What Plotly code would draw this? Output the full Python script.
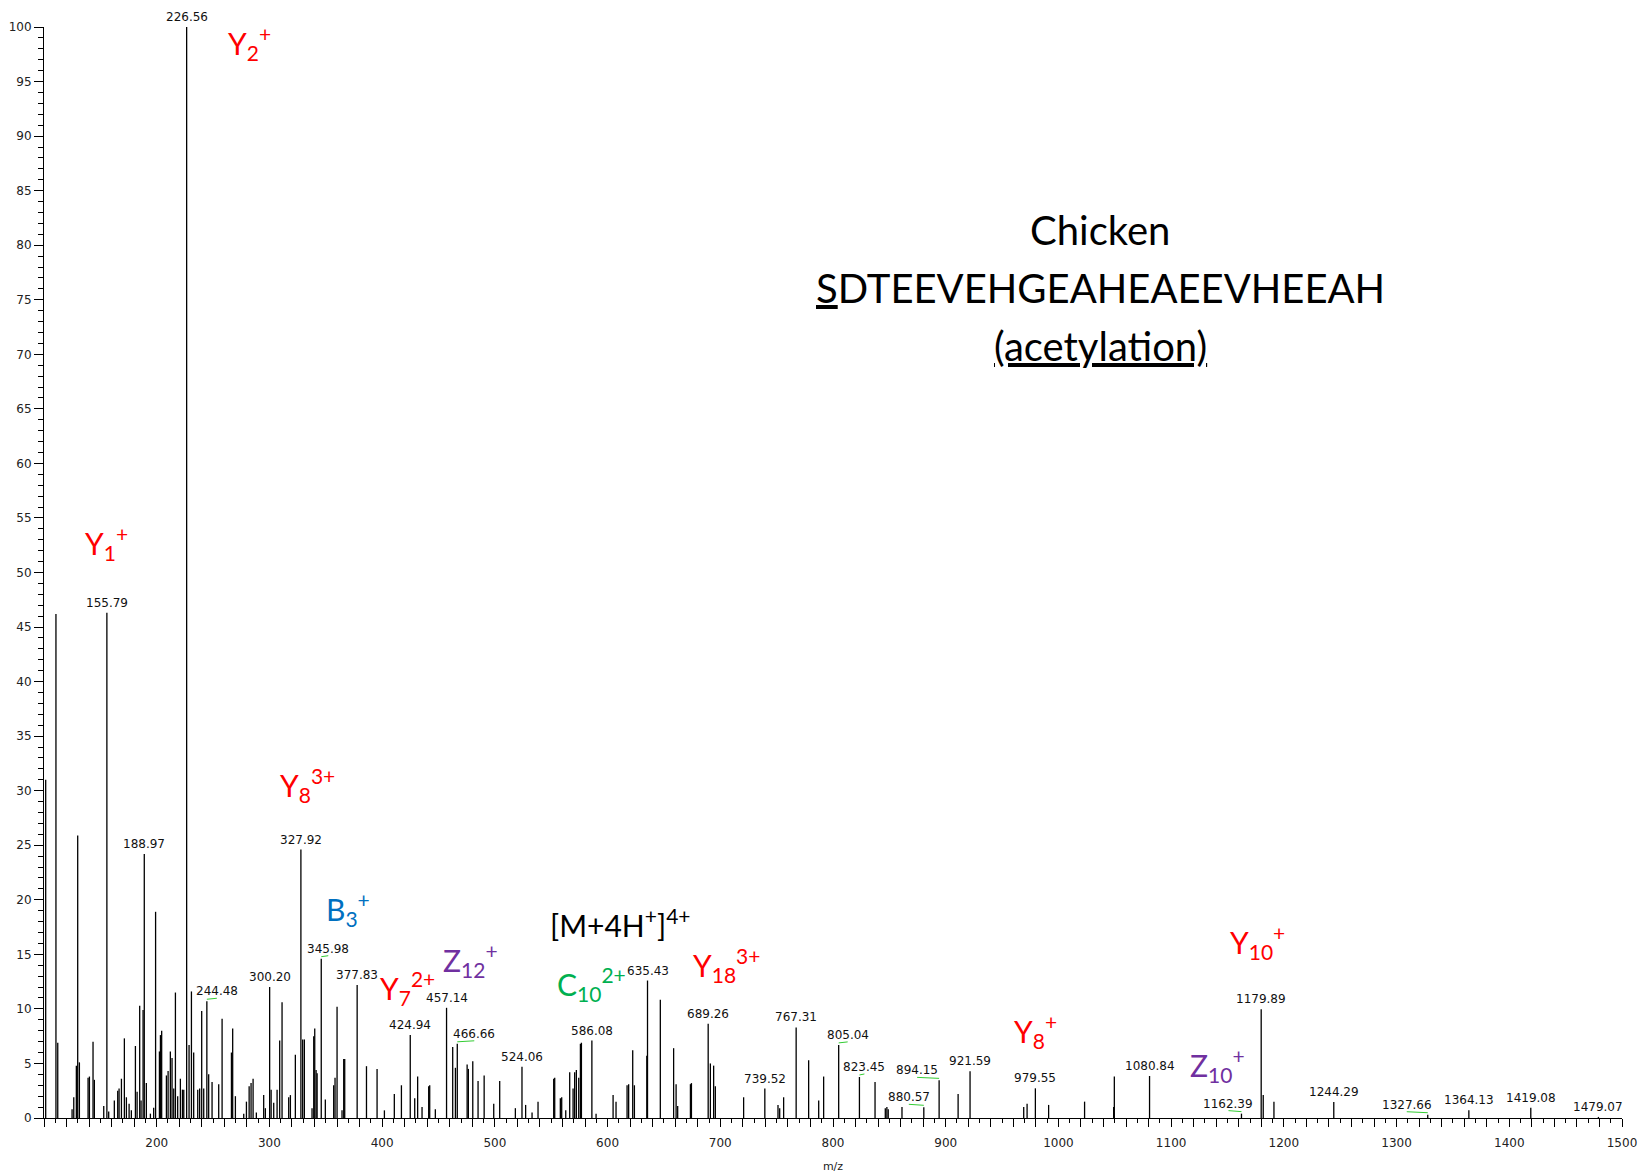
import plotly.graph_objects as go

# ---------------- data ----------------
MZ = [101.5, 110.6, 112.2, 124.9, 126.4, 128.7, 129.9, 131.4, 139.1, 140.3, 143.5, 144.7,
      153.0, 155.79, 157.4, 162.4, 165.4, 166.6, 168.7, 171.3, 173.1, 175.5, 177.5, 181.1,
      182.6, 184.9, 186.1, 187.9, 188.97, 190.8, 194.4, 197.3, 199.0, 202.4, 203.3, 204.4,
      208.6, 210.1, 212.1, 213.6, 215.1, 216.6, 218.6, 221.0, 222.8, 224.0, 226.56, 228.7,
      230.8, 232.8, 236.4, 238.1, 239.9, 241.7, 244.48, 246.1, 249.1, 255.0, 258.0, 266.3,
      267.4, 269.8, 277.2, 279.6, 282.0, 283.7, 285.5, 288.4, 294.9, 296.4, 300.20, 301.5,
      303.8, 306.8, 309.1, 311.2, 317.1, 318.6, 323.0, 327.92, 329.5, 331.0, 337.8, 339.3,
      340.2, 341.4, 342.3, 345.98, 349.6, 357.0, 358.2, 360.0, 364.4, 365.9, 366.8, 377.83,
      386.1, 395.5, 402.0, 410.8, 417.1, 424.94, 428.9, 431.5, 435.4, 441.3, 442.2, 447.2,
      457.14, 462.6, 465.0, 466.66, 475.4, 476.5, 480.4, 485.1, 490.5, 499.0, 504.3, 518.2,
      524.06, 527.3, 533.0, 538.3, 552.2, 553.1, 558.1, 559.3, 562.9, 566.4, 569.4, 570.8,
      572.3, 574.4, 575.9, 576.8, 586.08, 589.8, 604.9, 607.5, 617.3, 618.7, 622.3, 623.8,
      634.8, 635.43, 646.8, 658.6, 660.8, 662.2, 673.5, 674.4, 689.26, 691.2, 694.1, 695.6,
      720.7, 739.52, 751.2, 752.7, 756.2, 767.31, 778.4, 787.3, 791.7, 805.04, 823.45, 837.3,
      846.4, 847.8, 849.0, 861.2, 880.57, 894.15, 911.0, 921.59, 969.2, 972.2, 979.55, 991.3,
      1023.2, 1049.0, 1049.6, 1080.84, 1162.39, 1179.89, 1181.7, 1191.2, 1244.29, 1327.66,
      1364.13, 1419.08, 1479.07]
INTENSITY = [31.0, 46.2, 6.9, 0.8, 1.9, 4.8, 25.9, 5.1, 3.7, 3.8, 7.0, 3.5,
             1.1, 46.3, 0.6, 1.6, 2.5, 2.7, 3.6, 7.3, 1.9, 1.3, 0.7, 6.6,
             2.4, 10.3, 1.6, 9.9, 24.2, 3.2, 0.4, 0.95, 18.9, 6.1, 7.6, 8.0,
             3.9, 4.3, 6.1, 5.5, 2.7, 11.5, 2.0, 3.6, 2.6, 2.6, 100.0, 6.7,
             11.6, 6.0, 2.6, 2.7, 9.8, 2.7, 10.7, 4.0, 3.3, 3.1, 9.1, 6.0,
             8.2, 2.0, 0.4, 1.5, 2.9, 3.2, 3.6, 0.5, 2.1, 0.9, 12.0, 2.6,
             1.4, 2.6, 7.1, 10.6, 1.9, 2.1, 5.8, 24.6, 7.2, 7.2, 0.9, 7.5,
             8.2, 4.4, 4.1, 14.6, 1.7, 3.0, 3.7, 10.2, 0.7, 5.4, 5.4, 12.2,
             4.75, 4.5, 0.7, 2.2, 3.0, 7.6, 1.8, 3.8, 1.0, 2.9, 3.0, 0.8,
             10.1, 6.5, 4.6, 6.8, 4.9, 4.5, 5.2, 3.4, 3.9, 1.3, 3.4, 0.9,
             4.7, 1.2, 0.5, 1.5, 3.6, 3.7, 1.8, 1.9, 0.7, 4.2, 2.7, 4.2,
             4.4, 3.7, 6.8, 6.9, 7.1, 0.4, 2.1, 1.5, 3.0, 3.1, 6.2, 3.0,
             5.7, 12.6, 10.85, 6.4, 3.1, 1.1, 3.1, 3.2, 8.65, 5.0, 4.8, 2.9,
             1.9, 2.7, 1.2, 0.9, 1.9, 8.3, 5.3, 1.6, 3.8, 6.7, 3.76, 3.3,
             0.9, 1.0, 0.8, 1.0, 0.98, 3.45, 2.2, 4.28, 1.0, 1.3, 2.72, 1.2,
             1.5, 1.0, 3.8, 3.85, 0.4, 9.96, 2.1, 1.5, 1.47, 0.3,
             0.7, 0.95, 0.1]

PEAK_LABELS = ["155.79", "188.97", "226.56", "244.48", "300.20", "327.92", "345.98",
               "377.83", "424.94", "457.14", "466.66", "524.06", "586.08", "635.43",
               "689.26", "739.52", "767.31", "805.04", "823.45", "880.57", "894.15",
               "921.59", "979.55", "1080.84", "1162.39", "1179.89", "1244.29",
               "1327.66", "1364.13", "1419.08", "1479.07"]
# labels that were moved sideways in the original, joined to their peak by a green leader
MOVED_LABELS = ["244.48", "345.98", "466.66", "805.04", "823.45", "880.57", "894.15",
                "1162.39", "1327.66"]
MOVED_SHIFT_PX = [10, 7, 17, 9, 5, -15, -22, -13, -21]

ION_TEXT = ["Y<sub>1</sub><sup>+</sup>", "Y<sub>2</sub><sup>+</sup>",
            "Y<sub>8</sub><sup>3+</sup>", "B<sub>3</sub><sup>+</sup>",
            "Y<sub>7</sub><sup>2+</sup>", "Z<sub>12</sub><sup>+</sup>",
            "C<sub>10</sub><sup>2+</sup>", "Y<sub>18</sub><sup>3+</sup>",
            "Y<sub>8</sub><sup>+</sup>", "Z<sub>10</sub><sup>+</sup>",
            "Y<sub>10</sub><sup>+</sup>"]
ION_MZ = [155.3, 282.2, 333.4, 369.6, 422.7, 478.3, 585.7, 705.4, 979.6, 1141.0, 1176.5]
ION_Y = [52.7, 98.5, 30.5, 19.2, 11.9, 14.45, 12.3, 14.0, 8.0, 4.9, 16.1]
ION_COLOR = ["#FF0000", "#FF0000", "#FF0000", "#0070C0", "#FF0000", "#7030A0",
             "#00B050", "#FF0000", "#FF0000", "#7030A0", "#FF0000"]

PRECURSOR_TEXT = "[M+4H<sup>+</sup>]<sup>4+</sup>"
PRECURSOR_POS = (611.5, 17.9)

TITLE_LINES = ["Chicken", "<u>S</u>DTEEVEHGEAHEAEEVHEEAH", "<u>(acetylation)</u>"]
TITLE_MZ = 1037.2
TITLE_Y = [81.35, 76.1, 70.8]

X_TICKS = list(range(100, 1501, 20))
X_TICK_TEXT = [str(v) if (v % 100 == 0 and v != 100) else "" for v in X_TICKS]

# ---------------- figure ----------------
xs, ys = [], []
for m, h in zip(MZ, INTENSITY):
    xs += [m, m, None]
    ys += [0, h, None]

fig = go.Figure()
fig.add_trace(go.Scatter(x=xs, y=ys, mode="lines",
                         line=dict(color="black", width=1.3),
                         hoverinfo="skip", showlegend=False))

lookup = dict(zip(MZ, INTENSITY))
shift_of = dict(zip(MOVED_LABELS, MOVED_SHIFT_PX))
annotations = []
shapes = []
for lbl in PEAK_LABELS:
    m = float(lbl)
    h = lookup[m]
    dx = shift_of.get(lbl, 0)
    annotations.append(dict(x=m, y=h, text=lbl, showarrow=False, xanchor="center",
                            yanchor="bottom", yshift=1, xshift=dx,
                            font=dict(family="DejaVu Sans", size=12, color="#111111")))
    if lbl in shift_of:
        shapes.append(dict(type="line", xref="x", yref="y", xsizemode="pixel",
                           ysizemode="pixel", xanchor=m, yanchor=h,
                           x0=0, x1=dx, y0=2, y1=3,
                           line=dict(color="#33CC33", width=1)))

for t, m, y, c in zip(ION_TEXT, ION_MZ, ION_Y, ION_COLOR):
    annotations.append(dict(x=m, y=y, text=t, showarrow=False, xanchor="center",
                            yanchor="middle",
                            font=dict(family="Lato", size=30, color=c)))

annotations.append(dict(x=PRECURSOR_POS[0], y=PRECURSOR_POS[1], text=PRECURSOR_TEXT,
                        showarrow=False, xanchor="center", yanchor="middle",
                        font=dict(family="Lato", size=30, color="black")))

for t, y in zip(TITLE_LINES, TITLE_Y):
    annotations.append(dict(x=TITLE_MZ, y=y, text=t, showarrow=False, xanchor="center",
                            yanchor="middle",
                            font=dict(family="Lato", size=40, color="black")))

fig.update_layout(
    template="none",
    width=1638, height=1173,
    margin=dict(l=44, r=16, t=27, b=55, pad=0),
    paper_bgcolor="white", plot_bgcolor="white",
    showlegend=False,
    hovermode=False,
    annotations=annotations,
    shapes=shapes,
)
fig.update_xaxes(
    range=[100, 1500], automargin=False,
    showgrid=False, zeroline=False,
    showline=True, linecolor="black", linewidth=1,
    tickmode="array", tickvals=X_TICKS, ticktext=X_TICK_TEXT,
    ticks="outside", ticklen=8, tickwidth=1, tickcolor="black",
    ticklabelstandoff=6, ticklabeloverflow="allow",
    minor=dict(tickmode="linear", tick0=100, dtick=10, ticks="outside",
               ticklen=4, tickwidth=1, tickcolor="black", showgrid=False),
    tickfont=dict(family="DejaVu Sans", size=12, color="#222222"),
    title=dict(text="m/z", font=dict(family="DejaVu Sans", size=11, color="#222222"),
               standoff=12),
)
fig.update_yaxes(
    range=[0, 100], automargin=False,
    showgrid=False, zeroline=False,
    showline=True, linecolor="black", linewidth=1,
    tickmode="linear", tick0=0, dtick=5,
    ticks="outside", ticklen=9, tickwidth=1, tickcolor="black",
    ticklabeloverflow="allow",
    minor=dict(tickmode="linear", tick0=0, dtick=1, ticks="outside",
               ticklen=5, tickwidth=1, tickcolor="black", showgrid=False),
    tickfont=dict(family="DejaVu Sans", size=12, color="#222222"),
)

# remove the page's default 8px body margin so the figure fills the window exactly
fig.write_html("out.html",
               config={"displayModeBar": False, "staticPlot": True},
               post_script="document.body.style.margin='0';"
                           "document.body.style.overflow='hidden';")
